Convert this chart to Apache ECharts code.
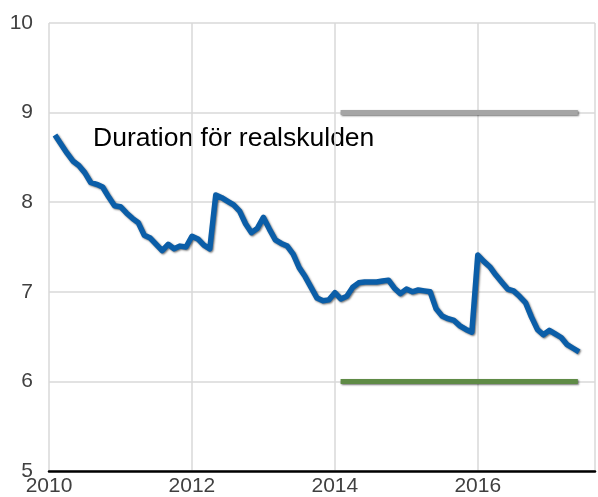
<!DOCTYPE html>
<html>
<head>
<meta charset="utf-8">
<script src="https://cdn.jsdelivr.net/npm/echarts@6/dist/echarts.min.js"></script>
<style>
  html, body { margin: 0; padding: 0; background: #fff; }
  #chart { width: 598px; height: 497px; }
</style>
</head>
<body>
<div id="chart"></div>
<script>
// månadsdata, feb 2010 - jun 2017
const startYear = 2010
const startMonth = 2
const duration = [
  8.75, 8.65, 8.55, 8.46, 8.41, 8.33, 8.22, 8.20, 8.17, 8.06, 7.96,
  7.95, 7.88, 7.82, 7.77, 7.63, 7.60, 7.53, 7.46, 7.53, 7.48, 7.51, 7.50,
  7.62, 7.59, 7.52, 7.48, 8.08, 8.05, 8.01, 7.97, 7.90, 7.76, 7.66, 7.71,
  7.83, 7.70, 7.58, 7.54, 7.51, 7.42, 7.27, 7.17, 7.05, 6.93, 6.90, 6.91,
  6.99, 6.92, 6.95, 7.05, 7.10, 7.11, 7.11, 7.11, 7.12, 7.13, 7.04, 6.98,
  7.03, 7.00, 7.02, 7.01, 7.00, 6.81, 6.73, 6.70, 6.68, 6.62, 6.58, 6.55,
  7.41, 7.34, 7.28, 7.19, 7.11, 7.03, 7.01, 6.95, 6.88, 6.72, 6.58, 6.52,
  6.57, 6.53, 6.49, 6.41, 6.37, 6.33
]
// riktmärken (från, till)
const benchmarkX = [2014.08, 2017.40]
const upperLimit = [9, 9]
const lowerLimit = [6, 6]
const yTicks = [5, 6, 7, 8, 9, 10]
const xTicks = [2010, 2012, 2014, 2016]

const fontFamily = '"Liberation Sans", Arial, sans-serif'

function toYear (i) {
  const m = startMonth - 1 + i
  return startYear + m / 12
}

const durationData = duration.map((v, i) => [toYear(i), v])
const upperData = benchmarkX.map((x, i) => [x, upperLimit[i]])
const lowerData = benchmarkX.map((x, i) => [x, lowerLimit[i]])

const myChart = echarts.init(document.getElementById('chart'))
const shadow = {
  shadowColor: 'rgba(0,0,0,0.55)',
  shadowBlur: 2,
  shadowOffsetX: 1,
  shadowOffsetY: 1
}
const option = {
  animation: false,
  grid: { left: 49, right: 3, top: 23, bottom: 21, containLabel: false },
  xAxis: {
    type: 'value',
    min: 2010,
    max: 2017.64,
    interval: 2,
    axisLine: { show: true, onZero: false, lineStyle: { color: '#000', width: 2.5 } },
    axisTick: { show: false },
    axisLabel: {
      show: true,
      margin: 5,
      color: '#404040',
      fontSize: 21,
      fontFamily: fontFamily,
      showMaxLabel: false,
      formatter: v => (xTicks.indexOf(v) >= 0 ? String(v) : '')
    },
    splitLine: { show: true, lineStyle: { color: '#d9d9d9', width: 1.5 } }
  },
  yAxis: {
    type: 'value',
    min: yTicks[0],
    max: yTicks[yTicks.length - 1],
    interval: 1,
    axisLine: { show: false },
    axisTick: { show: false },
    axisLabel: {
      margin: 16,
      color: '#404040',
      fontSize: 21,
      fontFamily: fontFamily
    },
    splitLine: { show: true, lineStyle: { color: '#d9d9d9', width: 1.5 } }
  },
  graphic: [
    {
      type: 'text',
      left: 93,
      top: 125,
      style: {
        text: 'Duration för realskulden',
        fill: '#000',
        font: '26.5px ' + fontFamily
      }
    }
  ],
  series: [
    {
      name: 'Övre',
      type: 'line',
      data: upperData,
      symbol: 'none',
      lineStyle: Object.assign({ color: '#a5a5a5', width: 5 }, shadow)
    },
    {
      name: 'Undre',
      type: 'line',
      data: lowerData,
      symbol: 'none',
      lineStyle: Object.assign({ color: '#5f8b46', width: 5 }, shadow)
    },
    {
      name: 'Duration',
      type: 'line',
      data: durationData,
      symbol: 'none',
      lineStyle: Object.assign({ color: '#0b5ea8', width: 5.5, join: 'round' }, shadow)
    }
  ]
}
myChart.setOption(option)
window.addEventListener('resize', function () {
  myChart.resize()
})
</script>
</body>
</html>
